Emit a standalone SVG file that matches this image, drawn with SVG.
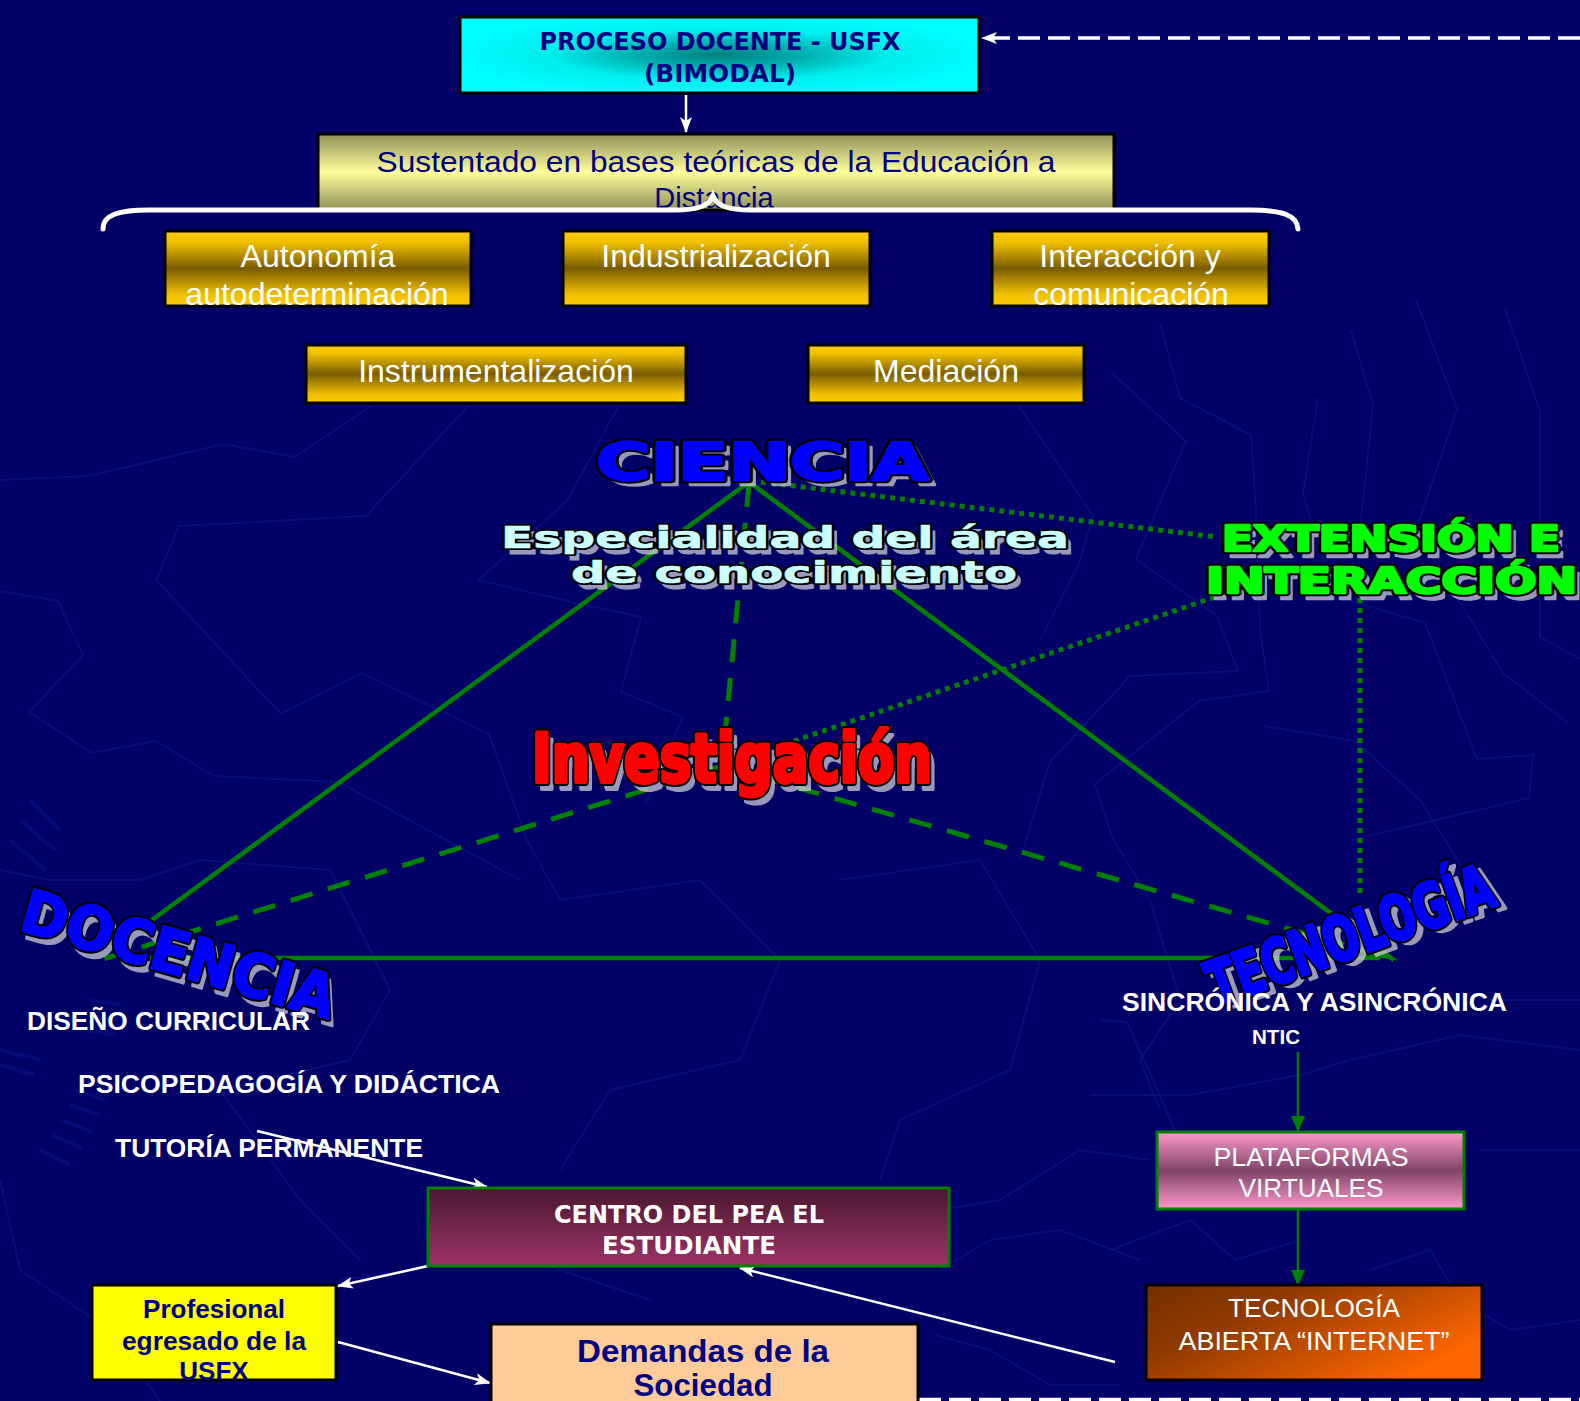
<svg xmlns="http://www.w3.org/2000/svg" xmlns:xlink="http://www.w3.org/1999/xlink" width="1580" height="1401" viewBox="0 0 1580 1401">
<style>
.bgl{fill:none;stroke:#101a8c;stroke-width:2;opacity:0.5}
.hatch{stroke:#0e1890;stroke-width:4;opacity:0.45}
.frame{stroke:#000;stroke-width:3}
.arial{font-family:"Liberation Sans",Arial,sans-serif}
.tah{font-family:"DejaVu Sans","Liberation Sans",sans-serif;font-weight:bold}
.wtxt{fill:#fff;font-size:32px;text-anchor:middle}
.wbold{fill:#fff;font-weight:bold;font-size:26px}
.navy{fill:#000080}
.tri{fill:none;stroke:#008000;stroke-width:4.5}
.dash{fill:none;stroke:#008000;stroke-width:5;stroke-dasharray:23 16}
.dot{fill:none;stroke:#008000;stroke-width:5;stroke-dasharray:5 5}
.warrow{fill:none;stroke:#fff;stroke-width:2.5}
.garrow{fill:none;stroke:#008000;stroke-width:2.5}
.wdash{fill:none;stroke:#fff;stroke-width:3.5;stroke-dasharray:22 8}
.wa-sh{fill:#d4d4dc;stroke:#d4d4dc;stroke-width:2.5;opacity:0.72;stroke-linejoin:round}
.wa-ol{fill:#000;stroke:#000;stroke-width:6.5;stroke-linejoin:round}
.wa{stroke-width:2.5;stroke-linejoin:round}
.wide{font-family:"DejaVu Sans","Liberation Sans",sans-serif;font-weight:bold}
.cond{font-family:"DejaVu Sans Condensed","DejaVu Sans","Liberation Sans",sans-serif;font-weight:bold;font-stretch:condensed}
</style>
<defs>
<radialGradient id="gCyan" cx="50%" cy="50%" r="55%">
<stop offset="0" stop-color="#008080"/>
<stop offset="0.3" stop-color="#00b0b0"/>
<stop offset="0.6" stop-color="#00eeee"/>
<stop offset="1" stop-color="#00ffff"/>
</radialGradient>
<linearGradient id="gYel" x1="0" y1="0" x2="0" y2="1">
<stop offset="0" stop-color="#8f8f58"/>
<stop offset="0.5" stop-color="#ffff9c"/>
<stop offset="1" stop-color="#8f8f58"/>
</linearGradient>
<linearGradient id="gGold" x1="0" y1="0" x2="0" y2="1">
<stop offset="0" stop-color="#ffcc00"/>
<stop offset="0.15" stop-color="#f0c000"/>
<stop offset="0.5" stop-color="#7a5c00"/>
<stop offset="0.85" stop-color="#f0c000"/>
<stop offset="1" stop-color="#ffcc00"/>
</linearGradient>
<linearGradient id="gPink" x1="0" y1="0" x2="0" y2="1">
<stop offset="0" stop-color="#ff99cc"/>
<stop offset="0.5" stop-color="#7f4466"/>
<stop offset="1" stop-color="#ff99cc"/>
</linearGradient>
<linearGradient id="gWine" x1="0" y1="0" x2="0" y2="1">
<stop offset="0" stop-color="#4a1830"/>
<stop offset="1" stop-color="#9c3366"/>
</linearGradient>
<linearGradient id="gOrange" x1="0" y1="0" x2="1" y2="0.6">
<stop offset="0" stop-color="#732f00"/>
<stop offset="0.35" stop-color="#8f3a00"/>
<stop offset="1" stop-color="#ff6600"/>
</linearGradient>
<marker id="mW" markerUnits="userSpaceOnUse" markerWidth="16" markerHeight="12" refX="15" refY="6" orient="auto">
<path d="M0,0 L16,6 L0,12 L4,6 z" fill="#fff"/>
</marker>
<marker id="mG" markerUnits="userSpaceOnUse" markerWidth="16" markerHeight="14" refX="15" refY="7" orient="auto">
<path d="M0,0 L16,7 L0,14 z" fill="#008000"/>
</marker>
<marker id="mGt" markerUnits="userSpaceOnUse" markerWidth="34" markerHeight="14" refX="33" refY="7" orient="auto">
<path d="M0,0 L34,7 L0,12 z" fill="#008000"/>
</marker>
<text id="tCiencia" class="wide" x="596" y="480" font-size="52" textLength="333" lengthAdjust="spacingAndGlyphs">CIENCIA</text>
<text id="tEsp1" class="wide" x="501" y="548" font-size="31" textLength="568" lengthAdjust="spacingAndGlyphs">Especialidad del área</text>
<text id="tEsp2" class="wide" x="571" y="583" font-size="31" textLength="446" lengthAdjust="spacingAndGlyphs">de conocimiento</text>
<text id="tExt1" class="wide" x="1222" y="551" font-size="35" textLength="338" lengthAdjust="spacingAndGlyphs">EXTENSIÓN E</text>
<text id="tExt2" class="wide" x="1206" y="593" font-size="35" textLength="371" lengthAdjust="spacingAndGlyphs">INTERACCIÓN</text>
<text id="tInv" class="cond" x="532" y="782" font-size="68" textLength="400" lengthAdjust="spacingAndGlyphs">Investigación</text>
<text id="tDoc" class="wide" x="-162" y="22" font-size="60" textLength="324" lengthAdjust="spacingAndGlyphs">DOCENCIA</text>
<text id="tTec" class="cond" x="-150" y="22" font-size="62" textLength="300" lengthAdjust="spacingAndGlyphs">TECNOLOGÍA</text>
</defs>

<rect width="1580" height="1401" fill="#000066"/>

<g id="background-lines">
<polyline class="bgl" points="0,480 89,476 223,444 295,457 373,405"/>
<polyline class="bgl" points="469,405 366,516 179,526 156,580 281,714 362,673 489,734 527,840 560,900"/>
<polyline class="bgl" points="0,591 58,601 83,655 29,712 92,753 156,741 214,776 339,782 446,840 520,880"/>
<polyline class="bgl" points="478,580 576,603 641,617 621,692 683,717 645,805"/>
<polyline class="bgl" points="618,407 567,501 478,580"/>
<polyline class="bgl" points="1160,323 1180,398 1251,435 1256,509 1260,630 1269,691 1199,701 1095,784 1112,837"/>
<polyline class="bgl" points="1112,373 1186,441 1136,559 1217,616 1238,671 1130,676 1050,762 1020,860"/>
<polyline class="bgl" points="1017,403 1093,516 1078,566 1040,640"/>
<polyline class="bgl" points="1351,330 1373,405 1360,530"/>
<polyline class="bgl" points="1318,398 1303,494 1325,566 1351,601 1425,623 1477,759 1533,755 1529,798 1351,840"/>
<polyline class="bgl" points="1416,300 1457,409 1416,530 1503,673 1568,723"/>
<polyline class="bgl" points="1505,309 1540,412 1540,637 1580,659"/>
<polyline class="bgl" points="1264,726 1355,741 1420,800 1470,880"/>
<polyline class="bgl" points="0,870 50,880 140,880 200,860 330,870 390,990 350,1060 220,1090 300,1200 360,1260"/>
<polyline class="bgl" points="0,1180 20,1270 110,1330 160,1401"/>
<polyline class="bgl" points="560,900 700,880 780,960 740,1060 610,1090 560,1170"/>
<polyline class="bgl" points="840,880 980,860 1040,960 1010,1070 900,1120 880,1180"/>
<polyline class="bgl" points="1112,837 1150,900 1180,1000 1140,1060 1160,1110"/>
<polyline class="bgl" points="1100,1020 1127,1022 1175,1130"/>
<polyline class="bgl" points="1090,1095 1190,1095 1300,1075 1350,1060 1460,1035 1580,1050"/>
<polyline class="bgl" points="1490,1000 1580,1000"/>
<polyline class="bgl" points="1110,1250 1190,1220 1235,1260 1300,1240"/>
<polyline class="bgl" points="1480,1150 1580,1150"/>
<polyline class="bgl" points="1370,1270 1430,1250 1460,1300 1510,1330 1580,1320"/>
<polyline class="bgl" points="935,1335 990,1350 1050,1385 1120,1385"/>
<polyline class="bgl" points="340,1280 420,1270 460,1230 560,1270 650,1300"/>
<polyline class="bgl" points="940,1270 990,1240 1060,1230 1140,1260"/>
<polyline class="bgl" points="940,1210 1000,1200 1080,1150 1150,1160"/>
<line class="hatch" x1="30" y1="800" x2="60" y2="830"/>
<line class="hatch" x1="20" y1="820" x2="55" y2="850"/>
<line class="hatch" x1="10" y1="840" x2="45" y2="870"/>
<line class="hatch" x1="90" y1="1000" x2="120" y2="1005"/>
<line class="hatch" x1="88" y1="1015" x2="118" y2="1020"/>
<line class="hatch" x1="86" y1="1030" x2="116" y2="1035"/>
<line class="hatch" x1="75" y1="1090" x2="105" y2="1100"/>
<line class="hatch" x1="70" y1="1105" x2="100" y2="1115"/>
<line class="hatch" x1="62" y1="1120" x2="92" y2="1132"/>
<line class="hatch" x1="52" y1="1135" x2="82" y2="1148"/>
<line class="hatch" x1="40" y1="1150" x2="70" y2="1165"/>
<line class="hatch" x1="0" y1="1050" x2="40" y2="1060"/>
<line class="hatch" x1="0" y1="1065" x2="35" y2="1075"/>
</g>

<g id="connectors">
<line class="warrow" x1="686" y1="95" x2="686" y2="132" marker-end="url(#mW)"/>
<line class="wdash" x1="1580" y1="38" x2="982" y2="38" marker-end="url(#mW)"/>
<line class="wdash" x1="919" y1="1399.5" x2="1580" y2="1399.5"/>
<polyline class="tri" points="141,928 749,482 1394,960"/>
<line class="tri" x1="150" y1="958" x2="1380" y2="958"/>
<line class="dash" x1="749" y1="484" x2="722" y2="766"/>
<line class="dash" x1="722" y1="766" x2="100" y2="960"/>
<line class="dash" x1="722" y1="766" x2="1397" y2="960" marker-end="url(#mGt)"/>
<line class="dot" x1="761" y1="482" x2="1217" y2="537"/>
<line class="dot" x1="718" y1="767" x2="1215" y2="597"/>
<line class="dot" x1="1360" y1="598" x2="1360" y2="897"/>
<line class="garrow" x1="1298" y1="1052" x2="1298" y2="1131" marker-end="url(#mG)"/>
<line class="garrow" x1="1298" y1="1209" x2="1298" y2="1285" marker-end="url(#mG)"/>
<line class="warrow" x1="257" y1="1131" x2="487" y2="1187" marker-end="url(#mW)"/>
<line class="warrow" x1="428" y1="1266" x2="338" y2="1286" marker-end="url(#mW)"/>
<line class="warrow" x1="338" y1="1342" x2="490" y2="1383" marker-end="url(#mW)"/>
<line class="warrow" x1="1115" y1="1362" x2="740" y2="1268" marker-end="url(#mW)"/>
</g>

<g id="node-proceso">
<rect x="460" y="17" width="519" height="76" fill="url(#gCyan)" class="frame"/>
<text class="tah navy" x="720" y="50" font-size="25" text-anchor="middle" textLength="361" lengthAdjust="spacingAndGlyphs">PROCESO DOCENTE - USFX</text>
<text class="tah navy" x="720" y="82" font-size="25" text-anchor="middle" textLength="152" lengthAdjust="spacingAndGlyphs">(BIMODAL)</text>
</g>

<g id="node-sustentado">
<rect x="318" y="134" width="796" height="76" fill="url(#gYel)" class="frame"/>
<text class="arial navy" x="716" y="172" font-size="29" text-anchor="middle" textLength="679" lengthAdjust="spacingAndGlyphs">Sustentado en bases teóricas de la Educación a</text>
<text class="arial navy" x="714" y="208" font-size="29" text-anchor="middle">Distancia</text>
</g>

<g id="brace">
<path d="M103,229 C103,215 118,210 150,210 L675,210 C698,210 709,206 713,196 C717,206 728,210 751,210 L1250,210 C1282,210 1297,215 1298,229" fill="none" stroke="#fff" stroke-width="5" stroke-linecap="round"/>
</g>

<g id="node-autonomia">
<rect x="165" y="231" width="306" height="75" fill="url(#gGold)" class="frame"/>
<text class="arial wtxt" x="318" y="267">Autonomía</text>
<text class="arial wtxt" x="317" y="305">autodeterminación</text>
</g>
<g id="node-industrializacion">
<rect x="563" y="231" width="307" height="75" fill="url(#gGold)" class="frame"/>
<text class="arial wtxt" x="716" y="267">Industrialización</text>
</g>
<g id="node-interaccion">
<rect x="992" y="231" width="277" height="75" fill="url(#gGold)" class="frame"/>
<text class="arial wtxt" x="1130" y="267">Interacción y</text>
<text class="arial wtxt" x="1131" y="305">comunicación</text>
</g>
<g id="node-instrumentalizacion">
<rect x="306" y="345" width="380" height="58" fill="url(#gGold)" class="frame"/>
<text class="arial wtxt" x="496" y="382">Instrumentalización</text>
</g>
<g id="node-mediacion">
<rect x="808" y="345" width="276" height="58" fill="url(#gGold)" class="frame"/>
<text class="arial wtxt" x="946" y="382">Mediación</text>
</g>

<g id="node-ciencia">
<use xlink:href="#tCiencia" href="#tCiencia" class="wa-sh" x="6" y="5"/>
<use xlink:href="#tCiencia" href="#tCiencia" class="wa-ol"/>
<use xlink:href="#tCiencia" href="#tCiencia" class="wa" fill="#0000ff" stroke="#0000ff"/>
</g>
<g id="node-especialidad">
<use xlink:href="#tEsp1" href="#tEsp1" class="wa-sh" x="5" y="6" style="stroke-width:1"/>
<use xlink:href="#tEsp2" href="#tEsp2" class="wa-sh" x="5" y="6" style="stroke-width:1"/>
<use xlink:href="#tEsp1" href="#tEsp1" class="wa-ol" style="stroke-width:4"/>
<use xlink:href="#tEsp2" href="#tEsp2" class="wa-ol" style="stroke-width:4"/>
<use xlink:href="#tEsp1" href="#tEsp1" class="wa" fill="#ccffff" stroke="#ccffff" style="stroke-width:0.6"/>
<use xlink:href="#tEsp2" href="#tEsp2" class="wa" fill="#ccffff" stroke="#ccffff" style="stroke-width:0.6"/>
</g>
<g id="node-extension">
<use xlink:href="#tExt1" href="#tExt1" class="wa-sh" x="5" y="6"/>
<use xlink:href="#tExt2" href="#tExt2" class="wa-sh" x="5" y="6"/>
<use xlink:href="#tExt1" href="#tExt1" class="wa-ol"/>
<use xlink:href="#tExt2" href="#tExt2" class="wa-ol"/>
<use xlink:href="#tExt1" href="#tExt1" class="wa" fill="#00ff00" stroke="#00ff00"/>
<use xlink:href="#tExt2" href="#tExt2" class="wa" fill="#00ff00" stroke="#00ff00"/>
</g>
<g id="node-investigacion">
<use xlink:href="#tInv" href="#tInv" class="wa-sh" x="5" y="7" style="stroke-width:4"/>
<use xlink:href="#tInv" href="#tInv" class="wa-ol" style="stroke-width:8"/>
<use xlink:href="#tInv" href="#tInv" class="wa" fill="#ff0000" stroke="#ff0000" style="stroke-width:4"/>
</g>
<g id="node-docencia" transform="translate(179,953) rotate(16)">
<use xlink:href="#tDoc" href="#tDoc" class="wa-sh" x="6" y="6"/>
<use xlink:href="#tDoc" href="#tDoc" class="wa-ol"/>
<use xlink:href="#tDoc" href="#tDoc" class="wa" fill="#0000ff" stroke="#0000ff"/>
</g>
<g id="node-tecnologia" transform="translate(1350,935) rotate(-20)">
<use xlink:href="#tTec" href="#tTec" class="wa-sh" x="6" y="6" style="stroke-width:3.5"/>
<use xlink:href="#tTec" href="#tTec" class="wa-ol" style="stroke-width:7.5"/>
<use xlink:href="#tTec" href="#tTec" class="wa" fill="#0000ff" stroke="#0000ff" style="stroke-width:3.5"/>
</g>

<g id="docencia-items">
<text class="arial wbold" x="27" y="1030" textLength="283" lengthAdjust="spacingAndGlyphs">DISEÑO CURRICULAR</text>
<text class="arial wbold" x="78" y="1093" textLength="422" lengthAdjust="spacingAndGlyphs">PSICOPEDAGOGÍA Y DIDÁCTICA</text>
<text class="arial wbold" x="115" y="1157" textLength="308" lengthAdjust="spacingAndGlyphs">TUTORÍA PERMANENTE</text>
</g>

<g id="tecnologia-items">
<text class="arial wbold" x="1122" y="1011" textLength="385" lengthAdjust="spacingAndGlyphs">SINCRÓNICA Y ASINCRÓNICA</text>
<text class="arial wbold" x="1252" y="1044" style="font-size:20px" textLength="48" lengthAdjust="spacingAndGlyphs">NTIC</text>
</g>

<g id="node-plataformas">
<rect x="1157" y="1132" width="307" height="77" fill="url(#gPink)" stroke="#008000" stroke-width="3"/>
<text class="arial" x="1311" y="1166" font-size="26" fill="#fff" text-anchor="middle" textLength="195" lengthAdjust="spacingAndGlyphs">PLATAFORMAS</text>
<text class="arial" x="1311" y="1197" font-size="26" fill="#fff" text-anchor="middle" textLength="145" lengthAdjust="spacingAndGlyphs">VIRTUALES</text>
</g>

<g id="node-internet">
<rect x="1146" y="1285" width="336" height="95" fill="url(#gOrange)" class="frame"/>
<text class="arial" x="1314" y="1317" font-size="26" fill="#fff" text-anchor="middle" textLength="172" lengthAdjust="spacingAndGlyphs">TECNOLOGÍA</text>
<text class="arial" x="1314" y="1350" font-size="26" fill="#fff" text-anchor="middle" textLength="271" lengthAdjust="spacingAndGlyphs">ABIERTA “INTERNET”</text>
</g>

<g id="node-centro">
<rect x="428" y="1188" width="521" height="78" fill="url(#gWine)" stroke="#008000" stroke-width="3"/>
<text class="tah" x="689" y="1223" font-size="25" fill="#fff" text-anchor="middle" textLength="270" lengthAdjust="spacingAndGlyphs">CENTRO DEL PEA EL</text>
<text class="tah" x="689" y="1254" font-size="25" fill="#fff" text-anchor="middle" textLength="174" lengthAdjust="spacingAndGlyphs">ESTUDIANTE</text>
</g>

<g id="node-profesional">
<rect x="92" y="1285" width="244" height="95" fill="#ffff00" class="frame"/>
<text class="arial navy" x="214" y="1318" font-size="26" font-weight="bold" text-anchor="middle" textLength="142" lengthAdjust="spacingAndGlyphs">Profesional</text>
<text class="arial navy" x="214" y="1350" font-size="26" font-weight="bold" text-anchor="middle" textLength="184" lengthAdjust="spacingAndGlyphs">egresado de la</text>
<text class="arial navy" x="214" y="1380" font-size="26" font-weight="bold" text-anchor="middle">USFX</text>
</g>

<g id="node-demandas">
<rect x="491" y="1324" width="427" height="80" fill="#ffcc99" class="frame"/>
<text class="arial navy" x="703" y="1362" font-size="32" font-weight="bold" text-anchor="middle" textLength="252" lengthAdjust="spacingAndGlyphs">Demandas de la</text>
<text class="arial navy" x="703" y="1396" font-size="32" font-weight="bold" text-anchor="middle" textLength="139" lengthAdjust="spacingAndGlyphs">Sociedad</text>
</g>
</svg>
